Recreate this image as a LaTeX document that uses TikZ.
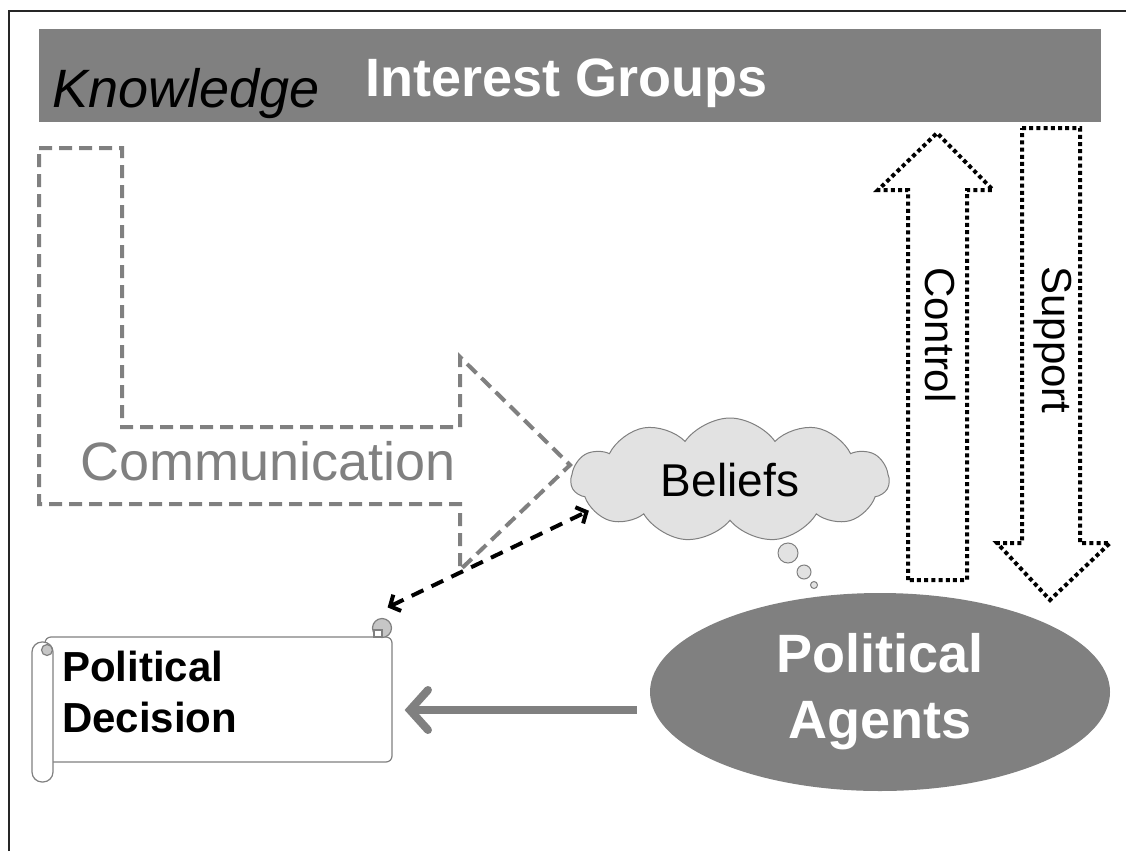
\documentclass[tikz,border=0pt]{standalone}
\usepackage{fontspec}
\setmainfont{Liberation Sans}
\usetikzlibrary{shapes.geometric,shapes.symbols,arrows.meta}
\definecolor{slidegray}{HTML}{808080}
\definecolor{cloudgray}{HTML}{E2E2E2}
\begin{document}
\begin{tikzpicture}[x=1pt,y=-1pt,
  commline/.style={draw=slidegray,line width=4pt,dash pattern=on 13pt off 7pt},
  dotline/.style={draw=black,line width=4pt,dash pattern=on 4pt off 3.2pt},
  scrollline/.style={draw=slidegray,line width=1.2pt},
  bubble/.style={circle,draw=slidegray,fill=cloudgray,line width=1pt,inner sep=0pt},
  beliefarrow/.style={draw=black,line width=4pt,dash pattern=on 13pt off 9pt,
    {Straight Barb[length=8pt,width=18pt]}-{Straight Barb[length=8pt,width=18pt]}},
  agentarrow/.style={draw=slidegray,line width=8pt,
    -{Straight Barb[length=18pt,width=40pt,line cap=round]}}]
\useasboundingbox (0,0) rectangle (1126,851);
\draw[line width=1.5pt,black!85] (9,851) -- (9,11) -- (1126,11);
\fill[slidegray] (39,29) rectangle (1101,122);
\node[anchor=base west,inner sep=0pt,font=\fontsize{54}{64}\selectfont\itshape] (knowledge) at (52,107) {Knowledge};
\node[anchor=base west,inner sep=0pt,text=white,font=\fontsize{54}{64}\selectfont\bfseries] (groups) at (365,96) {Interest Groups};
\draw[commline] (39,148) -- (122,148) -- (122,427) -- (460,427) -- (460,357) -- (570,465) -- (460,570) -- (460,504) -- (39,504) -- cycle;
\node[anchor=base west,inner sep=0pt,text=slidegray,font=\fontsize{54}{64}\selectfont] (comm) at (80,480) {Communication};
\node[cloud,cloud puffs=11,cloud puff arc=110,cloud ignores aspect,minimum width=318pt,minimum height=124pt,inner sep=0pt,draw=slidegray,fill=cloudgray,line width=1pt,font=\fontsize{46}{54}\selectfont] (beliefs) at (730,480) {Beliefs};
\node[bubble,minimum size=20pt] (bubble1) at (788,553) {};
\node[bubble,minimum size=14pt] (bubble2) at (804,572) {};
\node[bubble,minimum size=7pt] (bubble3) at (814,585) {};
\draw[dotline] (908,580) -- (908,190) -- (878,190) -- (937,133) -- (993,190) -- (967,190) -- (967,580) -- cycle;
\draw[dotline] (1022,128) -- (1080,128) -- (1080,543) -- (1110,543) -- (1050,600) -- (997,543) -- (1022,543) -- cycle;
\node[rotate=-90,font=\fontsize{42}{50}\selectfont] (control) at (940,335) {Control};
\node[rotate=-90,font=\fontsize{42}{50}\selectfont] (support) at (1053,340) {Support};
\node[ellipse,fill=slidegray,minimum width=460pt,minimum height=198pt,inner sep=0pt,text=white,align=center,font=\fontsize{54}{66}\selectfont\bfseries] (agents) at (880,692) {Political\\Agents};
\node[draw=slidegray,line width=1.2pt,rounded corners=6pt,fill=white,minimum width=347pt,minimum height=125pt,inner sep=0pt] (decision) at (218.5,699.5) {};
\draw[scrollline,fill=white,rounded corners=10pt] (32,642) rectangle (53,782);
\draw[scrollline,fill=slidegray!45] (47,650) circle (5.5);
\draw[scrollline,fill=slidegray!45] (382,628) circle (9.5);
\draw[scrollline,fill=white] (374,630) rectangle (382,637);
\node[anchor=west,inner sep=0pt,align=left,font=\fontsize{42}{51}\selectfont\bfseries] (decisiontext) at (62,692) {Political\\Decision};
\draw[beliefarrow,shorten >=3pt] ([shift={(-5,-29)}]decision.north east) -- (beliefs.192);
\draw[agentarrow] ([shift={(-13,18)}]agents.west) -- ([shift={(12,10.5)}]decision.east);
\end{tikzpicture}
\end{document}
